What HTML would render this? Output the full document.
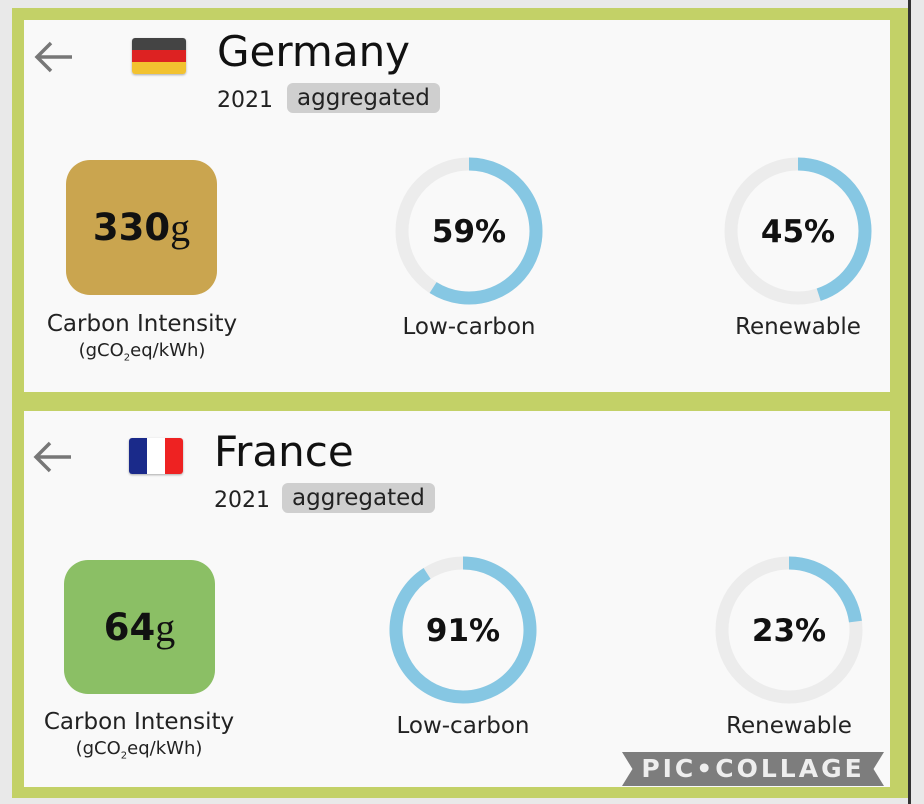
<!DOCTYPE html>
<html><head><meta charset="utf-8"><style>
body{margin:0;width:924px;height:804px;background:#e9e9e9;font-family:"Liberation Sans","DejaVu Sans",sans-serif;overflow:hidden;position:relative}
.frame{position:absolute;left:12px;top:8px;width:896px;height:790px;background:#c3d167}
.panel{position:absolute;left:24px;width:866px;background:#f9f9f9}
.abs{position:absolute}
.title{font-size:42px;color:#111;font-family:"DejaVu Sans",sans-serif}
.year{font-size:22px;color:#222;font-family:"DejaVu Sans",sans-serif}
.tag{background:#cfcfcf;border-radius:6px;padding:2px 10px;font-size:23px;color:#222;font-family:"DejaVu Sans",sans-serif}
.box{border-radius:24px;display:flex;align-items:center;justify-content:center;font-size:37px;font-weight:bold;color:#111;font-family:"DejaVu Sans",sans-serif}
.box span{font-family:"Liberation Serif",serif;font-weight:normal;font-size:40px}
.lbl{font-size:23px;color:#222;font-family:"DejaVu Sans",sans-serif;text-align:center}
.sub{font-size:18px;color:#222;font-family:"DejaVu Sans",sans-serif;text-align:center}
</style></head><body>
<div class="abs" style="left:908px;top:0;width:3px;height:804px;background:#333"></div>
<div class="frame"></div>
<div class="panel" style="top:20px;height:372px"></div>
<div class="panel" style="top:411px;height:376px"></div>

<svg class="abs" style="left:34px;top:40px" width="40" height="34"><path d="M38 17H3M17 3L3 17L17 31" fill="none" stroke="#777" stroke-width="3.5"/></svg>
<div class="abs" style="left:132px;top:38px;width:54px;height:36px;border-radius:3px;overflow:hidden;box-shadow:0 1px 2px #aaa"><div style="height:12px;background:#444"></div><div style="height:12px;background:#d22"></div><div style="height:12px;background:#f2c230"></div></div>
<div class="abs title" style="left:217px;top:27px">Germany</div>
<div class="abs year" style="left:217px;top:88px">2021</div>
<div class="abs tag" style="left:287px;top:83px">aggregated</div>
<div class="abs box" style="left:66px;top:160px;width:151px;height:135px;background:#caa54f">330<span>g</span></div>
<div class="abs lbl" style="left:12px;top:311px;width:260px">Carbon Intensity</div>
<div class="abs sub" style="left:12px;top:340px;width:260px">(gCO<sub style="font-size:10px">2</sub>eq/kWh)</div>

<svg class="abs" style="left:33px;top:440px" width="40" height="34"><path d="M38 17H3M17 3L3 17L17 31" fill="none" stroke="#777" stroke-width="3.5"/></svg>
<div class="abs" style="left:129px;top:438px;width:54px;height:36px;border-radius:3px;overflow:hidden;display:flex;box-shadow:0 1px 2px #aaa"><div style="flex:1;background:#1a2a8a"></div><div style="flex:1;background:#fff"></div><div style="flex:1;background:#e22"></div></div>
<div class="abs title" style="left:214px;top:427px">France</div>
<div class="abs year" style="left:214px;top:488px">2021</div>
<div class="abs tag" style="left:282px;top:483px">aggregated</div>
<div class="abs box" style="left:64px;top:560px;width:151px;height:134px;background:#8bbf65">64<span>g</span></div>
<div class="abs lbl" style="left:9px;top:709px;width:260px">Carbon Intensity</div>
<div class="abs sub" style="left:9px;top:738px;width:260px">(gCO<sub style="font-size:10px">2</sub>eq/kWh)</div>

<svg class="abs" style="left:0;top:0" width="924" height="804" id="rings"></svg>

<div class="abs" style="left:622px;top:752px;width:262px;height:34px;background:#7d7d7d;clip-path:polygon(0 0,100% 0,96% 50%,100% 100%,0 100%,4% 50%);color:#eee;font-size:25px;letter-spacing:3px;text-align:center;line-height:34px;font-family:'DejaVu Sans',sans-serif;font-weight:bold">PIC•COLLAGE</div>

<script>
const ringValues=[59,45,91,23];
const ringLabels=["Low-carbon","Renewable","Low-carbon","Renewable"];
const ringNames=["germany-low-carbon","germany-renewable","france-low-carbon","france-renewable"];
const cx=[469,798,463,789], cy=[231,231,630,630];
const svg=document.getElementById('rings');
const NS='http://www.w3.org/2000/svg';
const R=67, SW=13;
function angle(v){return v/100*2*Math.PI;}
ringValues.forEach((v,i)=>{
  const g=document.createElementNS(NS,'g');
  
  
  const bg=document.createElementNS(NS,'circle');
  bg.setAttribute('cx',cx[i]);bg.setAttribute('cy',cy[i]);bg.setAttribute('r',R);
  bg.setAttribute('fill','none');bg.setAttribute('stroke','#ececec');bg.setAttribute('stroke-width',SW);
  
  
  g.appendChild(bg);
  const a=angle(v);
  const x0=cx[i], y0=cy[i]-R, x1=cx[i]+R*Math.sin(a), y1=cy[i]-R*Math.cos(a);
  const p=document.createElementNS(NS,'path');
  p.setAttribute('d',`M${x0},${y0} A${R},${R} 0 ${v>50?1:0} 1 ${x1},${y1}`);
  p.setAttribute('fill','none');p.setAttribute('stroke','#86c7e3');p.setAttribute('stroke-width',SW);
  
  
  g.appendChild(p);
  const t=document.createElementNS(NS,'text');
  t.setAttribute('x',cx[i]);t.setAttribute('y',cy[i]+11);t.setAttribute('text-anchor','middle');
  t.setAttribute('font-size','31');t.setAttribute('font-weight','bold');t.setAttribute('fill','#111');
  t.setAttribute('font-family','DejaVu Sans, sans-serif');
  t.textContent=v+'%';
  
  
  g.appendChild(t);
  const l=document.createElementNS(NS,'text');
  l.setAttribute('x',cx[i]);l.setAttribute('y',cy[i]+103);l.setAttribute('text-anchor','middle');
  l.setAttribute('font-size','23');l.setAttribute('fill','#222');
  l.setAttribute('font-family','DejaVu Sans, sans-serif');
  l.textContent=ringLabels[i];
  
  
  g.appendChild(l);
  svg.appendChild(g);
});
</script>
</body></html>
